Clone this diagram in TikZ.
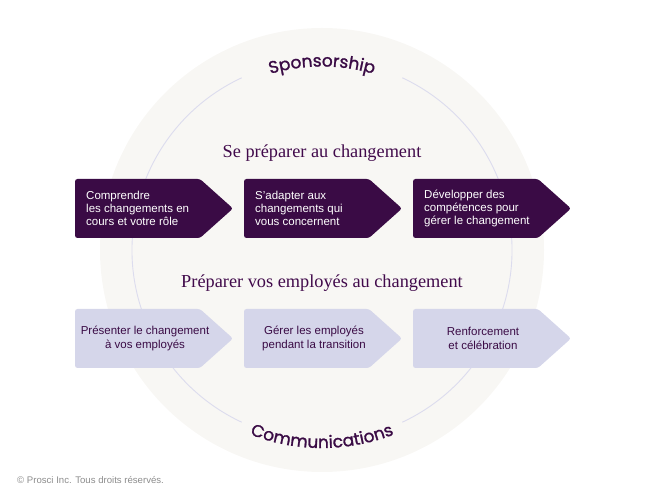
\documentclass[tikz,border=0pt]{standalone}
\usepackage{fontspec}
\setmainfont{Liberation Sans}
\newfontfamily\titelfont{Liberation Serif}
\newfontfamily\bogenfont[FakeBold=1.3]{Poppins}
\usetikzlibrary{decorations.text}

\definecolor{prune}{HTML}{3A0B45}
\definecolor{lavande}{HTML}{D5D6EA}
\definecolor{creme}{HTML}{F8F7F4}
\definecolor{ligne}{HTML}{DCDCEE}

\tikzset{
  titre/.style={font=\titelfont\fontsize{18.3}{20}\selectfont, text=prune!90!violet},
  haut/.style={font=\fontsize{11.5}{13.3}\selectfont, text=white, align=left, anchor=west, inner sep=0pt},
  bas/.style={font=\fontsize{11.5}{13.3}\selectfont, text=prune, align=center, inner sep=0pt},
}

\begin{document}
\begin{tikzpicture}[x=1pt,y=1pt]
\useasboundingbox (0,0) rectangle (650,502);

\coordinate (centre) at (322,252);
\fill[color=creme] (centre) circle[radius=222];
\draw[color=ligne,line width=0.9pt] (centre) ++(65:190) arc[start angle=65,end angle=-65,radius=190];
\draw[color=ligne,line width=0.9pt] (centre) ++(115:190) arc[start angle=115,end angle=245,radius=190];

% texte sur l'arc
\path[decorate,decoration={text along path,text align=center,
  text={|\bogenfont\fontsize{17}{19}\selectfont\color{prune}|Sponsorship}}]
  (centre) ++(140:183.5) arc[start angle=140,end angle=40,radius=183.5];
\path[decorate,decoration={text along path,text align=center,
  text={|\bogenfont\fontsize{17}{19}\selectfont\color{prune}|Communications}}]
  (centre) ++(220:198) arc[start angle=220,end angle=320,radius=198];

\node[titre] (phase1) at (322,349) {Se préparer au changement};
\node[titre] (phase2) at (322,219) {Préparer vos employés au changement};

% fleche : x gauche, y milieu, couleur
\def\etape#1#2#3{
\fill[color=#3,rounded corners=2.5pt] (#1,#2+29.5) -- (#1+125,#2+29.5) -- (#1+158,#2)
  -- (#1+125,#2-29.5) -- (#1,#2-29.5) -- cycle;
}

\etape{75}{293.5}{prune}
\etape{244}{293.5}{prune}
\etape{413}{293.5}{prune}

\etape{75}{163.5}{lavande}
\etape{244}{163.5}{lavande}
\etape{413}{163.5}{lavande}

\node[haut] (comprendre) at (86,293.5)  {Comprendre\\les changements en\\cours et votre rôle};
\node[haut] (adapter)    at (255,293.5) {S’adapter aux\\changements qui\\vous concernent};
\node[haut] (developper) at (424,293.5) {Développer des\\compétences pour\\gérer le changement};

\node[bas] (presenter)  at (145,163.5) {Présenter le changement\\à vos employés};
\node[bas] (gerer)      at (314,163.5) {Gérer les employés\\pendant la transition};
\node[bas] (renforcer)  at (483,163.5) {Renforcement\\et célébration};

\node[font=\fontsize{9.6}{11}\selectfont, text=black!45, anchor=west, inner sep=0pt] (droits) at (17,22)
  {© Prosci Inc. Tous droits réservés.};

\end{tikzpicture}
\end{document}
